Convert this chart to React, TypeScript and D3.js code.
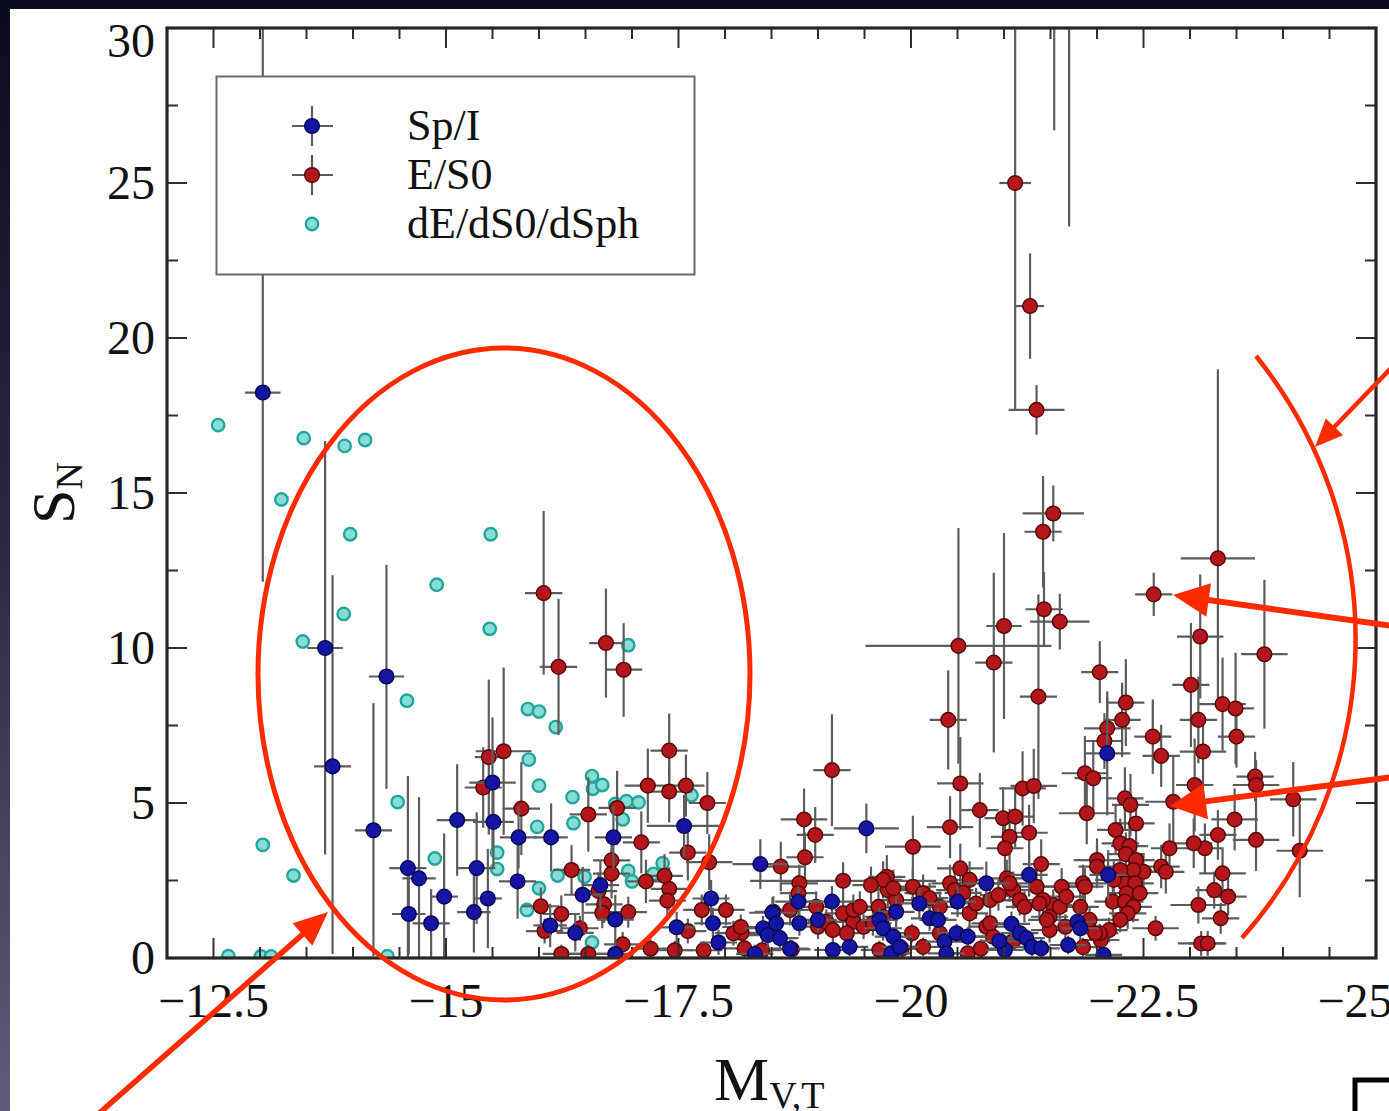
import React from 'react';
import * as d3 from 'd3';

// [M_V,T, S_N, x error, S_N error below, S_N error above]
type ErrPoint = [number, number, number, number, number];

const spiralIrregular: ErrPoint[] = [
  [-13.03, 18.24, 0.19, 6.1, 13], [-13.70, 10.0, 0.19, 6.66, 6.68], [-13.78, 6.18, 0.2, 6.05, 6.17],
  [-14.36, 9.08, 0.19, 3.62, 3.6], [-14.22, 4.12, 0.2, 4.06, 4.1], [-14.59, 2.90, 0.2, 2.9, 2.97],
  [-14.71, 2.57, 0.18, 2.57, 2.62], [-14.60, 1.42, 0.18, 1.3, 1.3], [-14.84, 1.12, 0.2, 1.1, 1.1],
  [-14.98, 1.98, 0.15, 1.98, 2.04], [-15.12, 4.45, 0.22, 1.8, 1.8], [-15.33, 2.90, 0.2, 1.8, 1.8],
  [-15.30, 1.48, 0.18, 1.3, 1.3], [-15.45, 1.92, 0.15, 1.6, 1.6], [-15.51, 4.39, 0.22, 1.5, 1.5],
  [-15.50, 5.66, 0.25, 2.1, 2.1], [-15.77, 2.47, 0.2, 1.2, 1.2], [-15.78, 3.89, 0.2, 1.0, 1.0],
  [-16.13, 3.89, 0.18, 1.1, 1.1], [-16.47, 2.04, 0.2, 0.9, 0.9], [-16.66, 2.35, 0.2, 0.8, 0.8],
  [-16.80, 3.89, 0.2, 1.0, 1.0], [-16.82, 1.24, 0.2, 0.8, 0.8], [-16.39, 0.81, 0.2, 0.6, 0.6],
  [-16.12, 1.05, 0.18, 0.7, 0.7], [-16.82, 0.13, 0.2, 0.13, 0.4], [-17.56, 4.26, 0.4, 1.0, 1.0],
  [-17.48, 0.99, 0.2, 0.5, 0.5], [-17.85, 1.92, 0.2, 0.6, 0.6], [-17.87, 1.12, 0.2, 0.5, 0.5],
  [-17.93, 0.50, 0.2, 0.4, 0.4], [-18.38, 3.03, 0.3, 0.8, 0.8], [-18.32, 0.13, 0.2, 0.13, 0.3],
  [-18.51, 1.46, 0.25, 0.5, 0.5], [-18.41, 0.96, 0.2, 0.4, 0.4], [-18.46, 0.74, 0.2, 0.4, 0.4],
  [-18.55, 1.12, 0.2, 0.4, 0.4], [-18.59, 0.64, 0.2, 0.4, 0.4], [-18.79, 1.82, 0.25, 0.5, 0.5],
  [-18.80, 1.12, 0.2, 0.4, 0.4], [-19.15, 1.82, 0.25, 0.5, 0.5], [-19.00, 1.23, 0.2, 0.4, 0.4],
  [-19.34, 0.36, 0.2, 0.3, 0.3], [-19.16, 0.26, 0.2, 0.26, 0.3], [-19.52, 4.18, 0.35, 0.8, 0.8],
  [-19.66, 1.23, 0.2, 0.4, 0.4], [-19.70, 0.96, 0.2, 0.4, 0.4], [-19.81, 0.69, 0.2, 0.3, 0.3],
  [-19.79, 0.15, 0.2, 0.15, 0.3], [-19.84, 1.49, 0.2, 0.5, 0.5], [-22.11, 6.60, 0.25, 2.0, 2.0],
  [-22.12, 2.68, 0.2, 0.8, 0.8], [-21.27, 2.68, 0.2, 0.7, 0.7], [-20.81, 2.41, 0.25, 0.7, 0.7],
  [-20.50, 1.82, 0.2, 0.5, 0.5], [-20.09, 1.76, 0.2, 0.5, 0.5], [-20.20, 1.28, 0.2, 0.4, 0.4],
  [-20.29, 1.23, 0.2, 0.4, 0.4], [-19.88, 0.36, 0.2, 0.3, 0.3], [-20.36, 0.53, 0.2, 0.3, 0.3],
  [-20.38, 0.15, 0.2, 0.15, 0.3], [-20.49, 0.80, 0.2, 0.3, 0.3], [-20.61, 0.69, 0.2, 0.3, 0.3],
  [-21.01, 0.26, 0.2, 0.26, 0.3], [-21.08, 1.10, 0.2, 0.4, 0.4], [-21.17, 0.80, 0.2, 0.3, 0.3],
  [-21.24, 0.64, 0.2, 0.3, 0.3], [-21.30, 0.36, 0.2, 0.3, 0.3], [-21.40, 0.31, 0.2, 0.3, 0.3],
  [-21.79, 1.17, 0.2, 0.4, 0.4], [-21.82, 0.96, 0.2, 0.4, 0.4], [-21.69, 0.42, 0.2, 0.3, 0.3],
  [-22.07, 0.10, 0.2, 0.1, 0.3], [-18.70, 0.30, 0.2, 0.3, 0.3], [-20.95, 0.55, 0.2, 0.3, 0.3],
];

const ellipticalLenticular: ErrPoint[] = [
  [-21.12, 25.0, 0.17, 7.3, 6], [-21.28, 21.03, 0.15, 1.7, 1.7], [-21.35, 17.68, 0.3, 0.8, 0.8],
  [-21.54, 35.0, 0.2, 8.3, 1], [-21.70, 34.0, 0.2, 10.4, 1],
  [-21.53, 14.34, 0.33, 0.9, 0.9], [-21.42, 13.75, 0.2, 1.8, 1.8], [-21.43, 11.25, 0.2, 1.2, 1.2],
  [-21.60, 10.85, 0.32, 0.9, 0.9], [-21.00, 10.71, 0.19, 3.0, 3.0], [-20.51, 10.07, 1.0, 3.8, 3.8],
  [-20.89, 9.53, 0.2, 2.9, 2.9], [-22.61, 11.73, 0.2, 0.7, 0.7], [-23.30, 12.89, 0.4, 4.6, 6.1],
  [-23.11, 10.37, 0.25, 2.0, 2.0], [-23.80, 9.80, 0.25, 2.4, 2.4], [-22.03, 9.22, 0.2, 1.0, 1.0],
  [-21.37, 8.43, 0.2, 3.3, 3.3], [-20.40, 7.68, 0.2, 1.6, 1.6], [-23.01, 8.81, 0.2, 2.0, 2.0],
  [-23.35, 8.19, 0.25, 1.5, 1.5], [-23.49, 8.05, 0.2, 1.8, 1.8], [-23.09, 7.68, 0.2, 1.4, 1.4],
  [-22.31, 8.24, 0.2, 1.4, 1.4], [-22.27, 7.68, 0.2, 1.2, 1.2], [-22.11, 7.41, 0.25, 1.0, 1.0],
  [-22.08, 7.00, 0.2, 0.9, 0.9], [-22.60, 7.14, 0.2, 1.2, 1.2], [-23.50, 7.14, 0.2, 1.0, 1.0],
  [-23.14, 6.66, 0.25, 1.2, 1.2], [-22.69, 6.52, 0.2, 1.0, 1.0], [-21.87, 5.96, 0.25, 1.2, 1.2],
  [-21.96, 5.80, 0.2, 1.2, 1.2], [-23.05, 5.58, 0.2, 1.5, 1.5], [-23.70, 5.85, 0.2, 0.8, 0.8],
  [-23.71, 5.58, 0.25, 0.8, 0.8], [-24.11, 5.12, 0.25, 1.2, 1.2], [-23.48, 4.47, 0.25, 1.0, 1.0],
  [-23.71, 3.81, 0.25, 1.0, 1.0], [-24.18, 3.46, 0.25, 1.5, 1.5], [-22.82, 5.04, 0.3, 1.5, 1.5],
  [-22.30, 5.15, 0.2, 1.0, 1.0], [-22.36, 4.94, 0.2, 1.0, 1.0], [-22.42, 4.34, 0.2, 0.8, 0.8],
  [-21.89, 4.67, 0.3, 1.0, 1.0], [-22.20, 4.13, 0.2, 0.8, 0.8], [-23.30, 3.97, 0.2, 0.8, 0.8],
  [-23.16, 3.54, 0.2, 0.8, 0.8], [-23.04, 3.70, 0.2, 0.8, 0.8], [-22.78, 3.54, 0.2, 0.8, 0.8],
  [-22.69, 2.95, 0.2, 0.7, 0.7], [-22.74, 2.78, 0.2, 0.7, 0.7], [-23.35, 2.73, 0.25, 0.8, 0.8],
  [-23.26, 2.19, 0.2, 0.6, 0.6], [-23.41, 1.98, 0.2, 0.6, 0.6], [-23.09, 1.71, 0.3, 0.6, 0.6],
  [-23.33, 1.28, 0.2, 0.5, 0.5], [-23.12, 0.47, 0.25, 0.4, 0.4], [-23.19, 0.47, 0.2, 0.4, 0.4],
  [-22.63, 0.96, 0.25, 0.4, 0.4], [-22.25, 3.70, 0.2, 0.8, 0.8], [-22.35, 3.61, 0.2, 0.8, 0.8],
  [-22.31, 3.35, 0.2, 0.7, 0.7], [-22.42, 3.16, 0.2, 0.7, 0.7], [-22.50, 2.78, 0.2, 0.6, 0.6],
  [-22.39, 2.84, 0.2, 0.6, 0.6], [-22.30, 2.41, 0.2, 0.6, 0.6], [-22.41, 2.41, 0.2, 0.6, 0.6],
  [-22.32, 2.09, 0.2, 0.5, 0.5], [-22.17, 1.82, 0.2, 0.5, 0.5], [-22.30, 1.82, 0.2, 0.5, 0.5],
  [-22.39, 1.65, 0.2, 0.5, 0.5], [-22.33, 1.44, 0.2, 0.5, 0.5], [-22.25, 1.23, 0.2, 0.4, 0.4],
  [-22.13, 0.90, 0.2, 0.4, 0.4], [-22.04, 0.58, 0.2, 0.3, 0.3], [-22.03, 0.80, 0.2, 0.3, 0.3],
  [-22.00, 3.16, 0.25, 0.7, 0.7], [-20.53, 5.63, 0.25, 1.5, 1.5], [-20.74, 4.77, 0.2, 1.2, 1.2],
  [-20.42, 4.22, 0.25, 1.0, 1.0], [-20.02, 3.59, 0.3, 1.0, 1.0], [-21.20, 5.47, 0.25, 1.2, 1.2],
  [-21.32, 5.55, 0.25, 1.2, 1.2], [-20.99, 4.51, 0.2, 1.0, 1.0], [-21.12, 4.56, 0.2, 1.0, 1.0],
  [-21.06, 3.91, 0.2, 0.9, 0.9], [-21.01, 3.54, 0.2, 0.8, 0.8], [-21.27, 4.04, 0.2, 0.9, 0.9],
  [-21.40, 3.03, 0.2, 0.8, 0.8], [-20.53, 2.89, 0.25, 0.8, 0.8], [-19.74, 2.62, 0.2, 0.7, 0.7],
  [-19.75, 2.19, 0.2, 0.6, 0.6], [-20.02, 2.30, 0.25, 0.6, 0.6], [-20.13, 2.09, 0.2, 0.6, 0.6],
  [-20.42, 2.41, 0.2, 0.6, 0.6], [-20.47, 2.19, 0.2, 0.6, 0.6], [-20.85, 1.87, 0.2, 0.5, 0.5],
  [-20.94, 2.03, 0.2, 0.5, 0.5], [-21.03, 2.57, 0.2, 0.6, 0.6], [-21.10, 2.19, 0.2, 0.6, 0.6],
  [-21.17, 1.87, 0.2, 0.5, 0.5], [-21.22, 1.65, 0.2, 0.5, 0.5], [-21.06, 2.41, 0.2, 0.6, 0.6],
  [-21.53, 1.71, 0.2, 0.5, 0.5], [-21.49, 1.33, 0.2, 0.5, 0.5], [-21.62, 2.30, 0.25, 0.6, 0.6],
  [-21.85, 2.41, 0.25, 0.6, 0.6], [-20.01, 0.80, 0.2, 0.3, 0.3], [-20.13, 0.36, 0.2, 0.3, 0.3],
  [-20.61, 0.15, 0.2, 0.15, 0.3], [-20.81, 1.01, 0.2, 0.4, 0.4], [-20.88, 0.69, 0.2, 0.3, 0.3],
  [-21.49, 0.90, 0.2, 0.4, 0.4], [-21.46, 1.23, 0.2, 0.4, 0.4], [-21.66, 1.01, 0.2, 0.4, 0.4],
  [-21.98, 0.80, 0.2, 0.3, 0.3], [-21.60, 1.65, 0.2, 0.5, 0.5], [-21.42, 1.87, 0.2, 0.5, 0.5],
  [-20.63, 1.44, 0.2, 0.5, 0.5], [-20.31, 0.80, 0.2, 0.3, 0.3], [-19.70, 2.52, 0.2, 0.6, 0.6],
  [-16.05, 11.77, 0.2, 2.63, 2.65], [-16.21, 9.39, 0.2, 2.2, 2.2], [-16.72, 10.16, 0.18, 1.76, 1.76],
  [-16.91, 9.30, 0.2, 1.52, 1.5], [-15.46, 6.48, 0.15, 2.5, 2.5], [-15.62, 6.67, 0.3, 2.7, 2.7],
  [-15.40, 5.50, 0.2, 1.3, 1.3], [-15.81, 4.82, 0.2, 1.5, 1.5], [-16.53, 4.63, 0.2, 1.2, 1.2],
  [-16.84, 4.84, 0.2, 1.2, 1.2], [-17.10, 3.73, 0.2, 1.0, 1.0], [-17.17, 5.56, 0.25, 1.2, 1.2],
  [-17.40, 6.69, 0.2, 1.2, 1.2], [-17.40, 5.37, 0.25, 1.0, 1.0], [-17.58, 5.56, 0.2, 1.0, 1.0],
  [-17.81, 5.00, 0.2, 1.0, 1.0], [-17.60, 3.40, 0.2, 0.9, 0.9], [-17.83, 3.09, 0.25, 0.9, 0.9],
  [-16.78, 3.15, 0.2, 0.8, 0.8], [-16.35, 2.84, 0.2, 0.8, 0.8], [-16.78, 2.72, 0.2, 0.8, 0.8],
  [-17.15, 2.47, 0.2, 0.7, 0.7], [-17.40, 2.23, 0.2, 0.7, 0.7], [-17.38, 1.85, 0.2, 0.6, 0.6],
  [-17.35, 2.65, 0.2, 0.7, 0.7], [-16.02, 1.67, 0.2, 0.6, 0.6], [-16.24, 1.42, 0.2, 0.6, 0.6],
  [-16.70, 1.73, 0.2, 0.6, 0.6], [-16.96, 1.48, 0.2, 0.5, 0.5], [-16.06, 0.87, 0.2, 0.4, 0.4],
  [-16.90, 0.44, 0.2, 0.4, 0.4], [-17.46, 0.25, 0.2, 0.25, 0.3], [-17.77, 0.25, 0.2, 0.25, 0.3],
  [-17.60, 0.87, 0.2, 0.4, 0.4], [-17.75, 1.55, 0.2, 0.5, 0.5], [-18.01, 1.55, 0.2, 0.5, 0.5],
  [-18.18, 0.81, 0.2, 0.4, 0.4], [-16.24, 0.13, 0.2, 0.13, 0.3], [-16.53, 0.13, 0.2, 0.13, 0.3],
  [-16.64, 2.16, 0.2, 0.6, 0.6], [-16.68, 1.46, 0.2, 0.5, 0.5], [-16.44, 0.96, 0.2, 0.4, 0.4],
  [-18.60, 2.95, 0.25, 0.8, 0.8], [-18.85, 4.47, 0.25, 1.0, 1.0], [-18.97, 3.97, 0.2, 0.9, 0.9],
  [-18.86, 3.25, 0.2, 0.8, 0.8], [-19.15, 6.06, 0.2, 1.8, 1.8], [-18.80, 2.41, 0.2, 0.6, 0.6],
  [-18.79, 2.09, 0.2, 0.6, 0.6], [-19.27, 2.49, 1.0, 0.6, 0.6], [-19.57, 2.35, 0.2, 0.6, 0.6],
  [-18.52, 1.49, 0.2, 0.5, 0.5], [-18.70, 1.55, 0.2, 0.5, 0.5], [-18.21, 0.31, 0.2, 0.3, 0.3],
  [-19.00, 1.01, 0.2, 0.4, 0.4], [-19.09, 1.17, 0.2, 0.4, 0.4], [-19.16, 0.90, 0.2, 0.4, 0.4],
  [-18.72, 0.28, 0.2, 0.28, 0.3], [-19.27, 1.44, 0.2, 0.5, 0.5], [-19.38, 1.17, 0.2, 0.4, 0.4],
  [-19.49, 1.01, 0.2, 0.4, 0.4], [-19.59, 1.12, 0.2, 0.4, 0.4], [-19.65, 1.65, 0.2, 0.5, 0.5],
  [-19.70, 1.33, 0.2, 0.5, 0.5], [-19.38, 1.55, 0.2, 0.5, 0.5], [-18.98, 1.65, 0.2, 0.5, 0.5],
  [-19.66, 0.26, 0.2, 0.26, 0.3], [-18.09, 0.80, 0.2, 0.4, 0.4], [-18.17, 1.00, 0.2, 0.4, 0.4],
  [-19.31, 0.80, 0.2, 0.4, 0.4], [-19.45, 1.65, 0.2, 0.5, 0.5], [-19.84, 1.87, 0.2, 0.5, 0.5],
  [-19.81, 2.25, 0.2, 0.6, 0.6], [-20.20, 1.93, 0.2, 0.5, 0.5], [-20.31, 1.65, 0.2, 0.5, 0.5],
  [-20.56, 2.10, 0.2, 0.6, 0.6], [-20.63, 2.52, 0.2, 0.6, 0.6], [-20.70, 1.76, 0.2, 0.5, 0.5],
  [-20.85, 1.12, 0.2, 0.4, 0.4], [-21.35, 2.30, 0.2, 0.6, 0.6], [-21.38, 1.76, 0.2, 0.5, 0.5],
  [-21.67, 1.98, 0.2, 0.5, 0.5], [-21.82, 1.65, 0.2, 0.5, 0.5], [-21.92, 1.23, 0.2, 0.4, 0.4],
  [-21.87, 2.30, 0.2, 0.6, 0.6], [-22.25, 2.84, 0.2, 0.6, 0.6], [-22.18, 2.52, 0.2, 0.6, 0.6],
  [-22.46, 2.09, 0.2, 0.5, 0.5], [-22.00, 2.95, 0.2, 0.7, 0.7], [-17.20, 0.30, 0.2, 0.3, 0.3],
  [-18.40, 0.25, 0.2, 0.25, 0.3], [-19.90, 0.30, 0.2, 0.3, 0.3], [-20.75, 0.30, 0.2, 0.3, 0.3],
  [-21.10, 0.55, 0.2, 0.3, 0.3], [-21.85, 0.35, 0.2, 0.3, 0.3],
];

// [M_V,T, S_N]
const dwarfEarly: [number, number][] = [
  [-12.55, 17.19], [-13.47, 16.77], [-13.91, 16.52], [-14.13, 16.71], [-13.23, 14.79], [-13.97, 13.67],
  [-15.48, 13.67], [-14.90, 12.04], [-13.90, 11.10], [-15.47, 10.62], [-13.46, 10.21], [-16.96, 10.09],
  [-14.58, 8.30], [-15.88, 8.03], [-16.00, 7.95], [-16.18, 7.45], [-15.89, 6.40], [-16.00, 5.56],
  [-16.57, 5.87], [-16.58, 5.46], [-16.68, 5.58], [-16.36, 5.19], [-16.82, 4.97], [-16.94, 5.06],
  [-17.07, 5.02], [-17.64, 5.25], [-14.48, 5.03], [-15.98, 4.23], [-16.37, 4.35], [-16.90, 4.47],
  [-15.55, 3.40], [-14.88, 3.21], [-15.55, 2.87], [-13.03, 3.65], [-13.36, 2.66], [-16.20, 2.66],
  [-16.49, 2.62], [-16.00, 2.25], [-15.87, 1.55], [-16.96, 2.81], [-17.00, 2.47], [-17.33, 3.06],
  [-17.23, 2.71], [-16.57, 0.50], [-12.66, 0.06], [-13.01, 0.05], [-13.12, 0.05], [-14.37, 0.06],
];

const xTickValues = [-12.5, -15, -17.5, -20, -22.5, -25];
const yTickValues = [0, 5, 10, 15, 20, 25, 30];
const legendLabels = ['Sp/I', 'E/S0', 'dE/dS0/dSph'];

const W = 1389;
const H = 1111;
const SERIF = "'Liberation Serif', 'Times New Roman', serif";
const RED_INK = '#ff2a00';

const x = d3.scaleLinear().domain([-12, -25]).range([167, 1376]);
const y = d3.scaleLinear().domain([0, 30]).range([958, 28]);

const BLUE = { fill: '#1515a4', stroke: '#07075a', r: 7.3 };
const RED = { fill: '#b3171c', stroke: '#5a0707', r: 7.3 };
const CYAN = { fill: '#86ddd6', stroke: '#23a59b', r: 6.2 };
const ERR = '#5c5c5c';

function ErrorBars({ data }: { data: ErrPoint[] }) {
  return (
    <g stroke={ERR} strokeWidth={2.2}>
      {data.map((d, i) => (
        <g key={i}>
          <line x1={x(d[0] - d[2])} x2={x(d[0] + d[2])} y1={y(d[1])} y2={y(d[1])} />
          <line x1={x(d[0])} x2={x(d[0])} y1={y(d[1] - d[3])} y2={y(d[1] + d[4])} />
        </g>
      ))}
    </g>
  );
}

function Dots({ data, color }: { data: [number, number][]; color: { fill: string; stroke: string; r: number } }) {
  return (
    <g fill={color.fill} stroke={color.stroke} strokeWidth={color === CYAN ? 2.4 : 1.5}>
      {data.map((d, i) => (
        <circle key={i} cx={x(d[0])} cy={y(d[1])} r={color.r} />
      ))}
    </g>
  );
}

function Arrow({ x1, y1, x2, y2, w, hl, hw }: { x1: number; y1: number; x2: number; y2: number; w: number; hl: number; hw: number }) {
  const dx = x2 - x1;
  const dy = y2 - y1;
  const len = Math.hypot(dx, dy);
  const ux = dx / len;
  const uy = dy / len;
  const bx = x2 - ux * hl;
  const by = y2 - uy * hl;
  const px = -uy;
  const py = ux;
  const head = `${x2},${y2} ${bx + px * hw / 2},${by + py * hw / 2} ${bx - px * hw / 2},${by - py * hw / 2}`;
  return (
    <g>
      <line x1={x1} y1={y1} x2={bx + ux * 2} y2={by + uy * 2} stroke={RED_INK} strokeWidth={w} />
      <polygon points={head} fill={RED_INK} />
    </g>
  );
}

export default function App() {
  const xMinor = d3.range(0, 27).map((i) => -12 - i * 0.5);
  const yMinor = d3.range(0, 13).map((i) => i * 2.5);
  const isMajorX = (v: number) => Math.abs(v / 2.5 - Math.round(v / 2.5)) < 1e-6;
  const isMajorY = (v: number) => Math.abs(v / 5 - Math.round(v / 5)) < 1e-6;
  const fmt = d3.format('');
  const left = x.range()[0];
  const right = x.range()[1];
  const top = y.range()[1];
  const bottom = y.range()[0];

  return (
    <svg width={W} height={H} style={{ position: 'absolute', left: 0, top: 0 }} fontFamily={SERIF}>
      <defs>
        <linearGradient id="slideEdge" x1="0" y1="0" x2="0" y2="1">
          <stop offset="0" stopColor="#0a0a20" />
          <stop offset="0.5" stopColor="#2a2a46" />
          <stop offset="1" stopColor="#5e5c7a" />
        </linearGradient>
        <clipPath id="plotArea">
          <rect x={left} y={top} width={right - left} height={bottom - top} />
        </clipPath>
      </defs>

      <rect x={0} y={0} width={W} height={H} fill="#ffffff" />
      <rect x={0} y={0} width={10} height={H} fill="url(#slideEdge)" />
      <rect x={0} y={0} width={W} height={9} fill="#0a0a20" />

      {/* data */}
      <g clipPath="url(#plotArea)">
        <Dots data={dwarfEarly} color={CYAN} />
        <ErrorBars data={ellipticalLenticular} />
        <Dots data={ellipticalLenticular.map((d) => [d[0], d[1]] as [number, number])} color={RED} />
        <ErrorBars data={spiralIrregular} />
        <Dots data={spiralIrregular.map((d) => [d[0], d[1]] as [number, number])} color={BLUE} />
      </g>

      {/* frame and ticks */}
      <g stroke="#2e2e2e" strokeWidth={2}>
        {xMinor.map((v, i) => {
          const len = isMajorX(v) ? 20 : 11;
          return (
            <g key={i}>
              <line x1={x(v)} x2={x(v)} y1={bottom} y2={bottom - len} />
              <line x1={x(v)} x2={x(v)} y1={top} y2={top + len} />
            </g>
          );
        })}
        {yMinor.map((v, i) => {
          const len = isMajorY(v) ? 20 : 11;
          return (
            <g key={i}>
              <line x1={left} x2={left + len} y1={y(v)} y2={y(v)} />
              <line x1={right} x2={right - len} y1={y(v)} y2={y(v)} />
            </g>
          );
        })}
      </g>
      <rect x={left} y={top} width={right - left} height={bottom - top} fill="none" stroke="#262626" strokeWidth={3.2} />

      {/* tick labels */}
      <g fontSize={48} fill="#111">
        {xTickValues.map((v) => (
          <text key={v} x={Math.min(x(v), 1355)} y={1017} textAnchor="middle">{fmt(v)}</text>
        ))}
        {yTickValues.map((v) => (
          <text key={v} x={155} y={Math.max(y(v), 41)} dy="0.34em" textAnchor="end">{fmt(v)}</text>
        ))}
      </g>

      {/* axis titles */}
      <text x={714} y={1100} fontSize={62} fill="#111">
        M<tspan fontSize={38} dy={8}>V,T</tspan>
      </text>
      <text transform="translate(74,524) rotate(-90)" fontSize={62} fill="#111">
        S<tspan fontSize={38} dy={8}>N</tspan>
      </text>

      {/* legend */}
      <rect x={216.5} y={76.5} width={478} height={198} fill="#fff" stroke="#6a6a6a" strokeWidth={2} />
      {legendLabels.map((label, i) => {
        const ly = 126 + i * 49;
        const c = [BLUE, RED, CYAN][i];
        return (
          <g key={label}>
            {i < 2 && (
              <g stroke={ERR} strokeWidth={2.2}>
                <line x1={292} x2={333} y1={ly} y2={ly} />
                <line x1={312} x2={312} y1={ly - 20} y2={ly + 20} />
              </g>
            )}
            <circle cx={312} cy={ly} r={c.r} fill={c.fill} stroke={c.stroke} strokeWidth={i < 2 ? 1.5 : 2.4} />
            <text x={407} y={ly + 14} fontSize={44} fill="#111">{label}</text>
          </g>
        );
      })}

      {/* annotations */}
      <ellipse cx={504} cy={674} rx={246} ry={326} fill="none" stroke={RED_INK} strokeWidth={5} />
      <path d="M1256,356 A451,451 0 0 1 1242,938" fill="none" stroke={RED_INK} strokeWidth={4.5} />
      <Arrow x1={96} y1={1116} x2={328} y2={912} w={5.5} hl={34} hw={30} />
      <Arrow x1={1393} y1={366} x2={1315} y2={447} w={4.5} hl={28} hw={24} />
      <Arrow x1={1393} y1={626} x2={1173} y2={595} w={6} hl={36} hw={34} />
      <Arrow x1={1393} y1={777} x2={1170} y2={806} w={6} hl={36} hw={36} />
      <path d="M1355,1111 V1080 H1392" fill="none" stroke="#000" strokeWidth={5} />
    </svg>
  );
}
